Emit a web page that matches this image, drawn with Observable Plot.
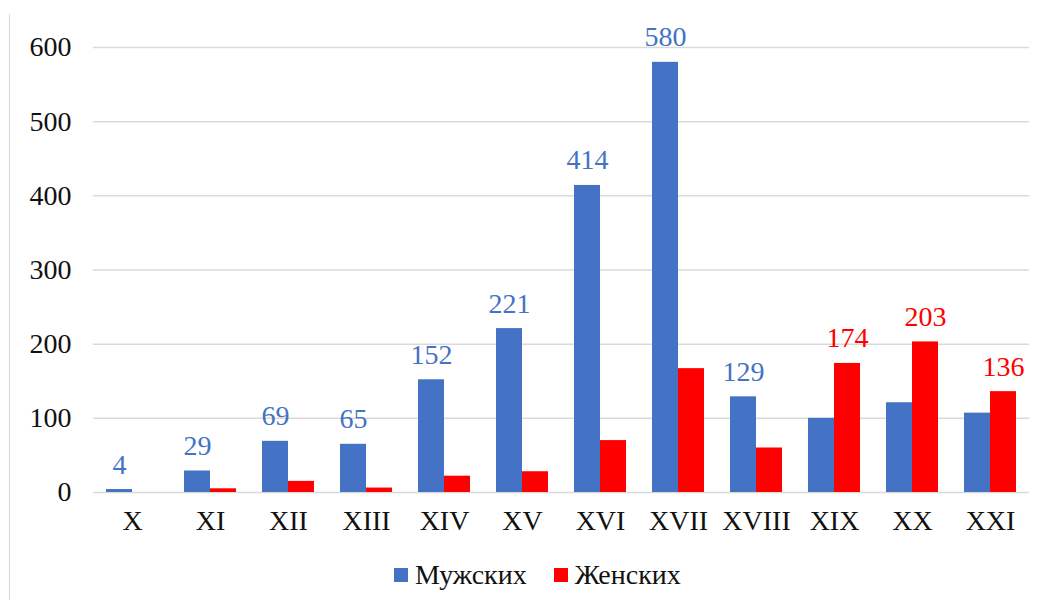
<!DOCTYPE html>
<html>
<head>
<meta charset="utf-8">
<style>
  body { margin: 0; background: #fff; font-family: "Liberation Serif", serif; }
  .preload { position: absolute; left: 0; top: 0; opacity: 0; font-family: "Liberation Serif"; font-size: 28px; }
</style>
<script src="https://cdn.jsdelivr.net/npm/d3@7"></script>
<script src="https://cdn.jsdelivr.net/npm/@observablehq/plot@0.6"></script>
</head>
<body>
<div class="preload">Мужских Женских 0123456789 XVI</div>
<div id="wrap" style="position:relative;width:1045px;height:600px">
  <div style="position:absolute;left:9px;top:14px;width:0;height:586px;border-left:1.5px solid #d9d9d9"></div>
  <div id="chart" style="position:absolute;left:0;top:0"></div>
  <div id="legend" style="position:absolute;left:394px;top:559px;display:flex;align-items:center;font-size:28px;color:#111;font-family:'Liberation Serif'"></div>
</div>
<script>
const categories = ["X","XI","XII","XIII","XIV","XV","XVI","XVII","XVIII","XIX","XX","XXI"];
const series = ["Мужских","Женских"];
const colors = ["#4472C4","#FF0000"];
const male   = [4, 29, 69, 65, 152, 221, 414, 580, 129, 100, 121, 107];
const female = [0, 5, 15, 6, 22, 28, 70, 167, 60, 174, 203, 136];
const maleLabelShown   = [true,true,true,true,true,true,true,true,true,false,false,false];
const femaleLabelShown = [false,false,false,false,false,false,false,false,false,true,true,true];
const yTicks = [0,100,200,300,400,500,600];
const FONT = "Liberation Serif";

const data = [];
categories.forEach((c, i) => {
  data.push({cat: c, s: series[0], v: male[i], show: maleLabelShown[i]});
  data.push({cat: c, s: series[1], v: female[i], show: femaleLabelShown[i]});
});

const chart = Plot.plot({
  width: 1045,
  height: 545,
  marginLeft: 92,
  marginRight: 15,
  marginTop: 47,
  marginBottom: 53,
  style: {fontSize: "28px", color: "#111", background: "transparent", fontFamily: FONT},
  fx: {domain: categories, padding: 0, label: null, axis: null},
  x: {domain: series, paddingInner: 0, paddingOuter: 0.5, axis: null},
  y: {domain: [0, 600], label: null},
  color: {domain: series, range: colors},
  marks: [
    Plot.ruleY(yTicks, {stroke: "#d9d9d9", strokeWidth: 1.5}),
    Plot.barY(data, {fx: "cat", x: "s", y: "v", fill: "s"}),
    Plot.text(data.filter(d => d.show), {fx: "cat", x: "s", y: "v", text: d => String(d.v), dy: -25, fill: "s", fontSize: 28, fontFamily: FONT}),
    Plot.axisY(yTicks, {tickSize: 0, tickPadding: 22, label: null, fontSize: 28, fontFamily: FONT, tickFormat: d => String(d)}),
    Plot.axisFx({anchor: "bottom", tickSize: 0, tickPadding: 18, label: null, fontSize: 28, fontFamily: FONT})
  ]
});
document.getElementById("chart").appendChild(chart);

const legend = document.getElementById("legend");
series.forEach((s, i) => {
  const it = document.createElement("div");
  it.style.cssText = "display:flex;align-items:center;margin-right:27px";
  const sw = document.createElement("span");
  sw.style.cssText = "width:14px;height:14px;display:inline-block;margin-right:7px;background:" + colors[i];
  const t = document.createElement("span");
  t.textContent = s;
  it.appendChild(sw); it.appendChild(t);
  legend.appendChild(it);
});
</script>
</body>
</html>
